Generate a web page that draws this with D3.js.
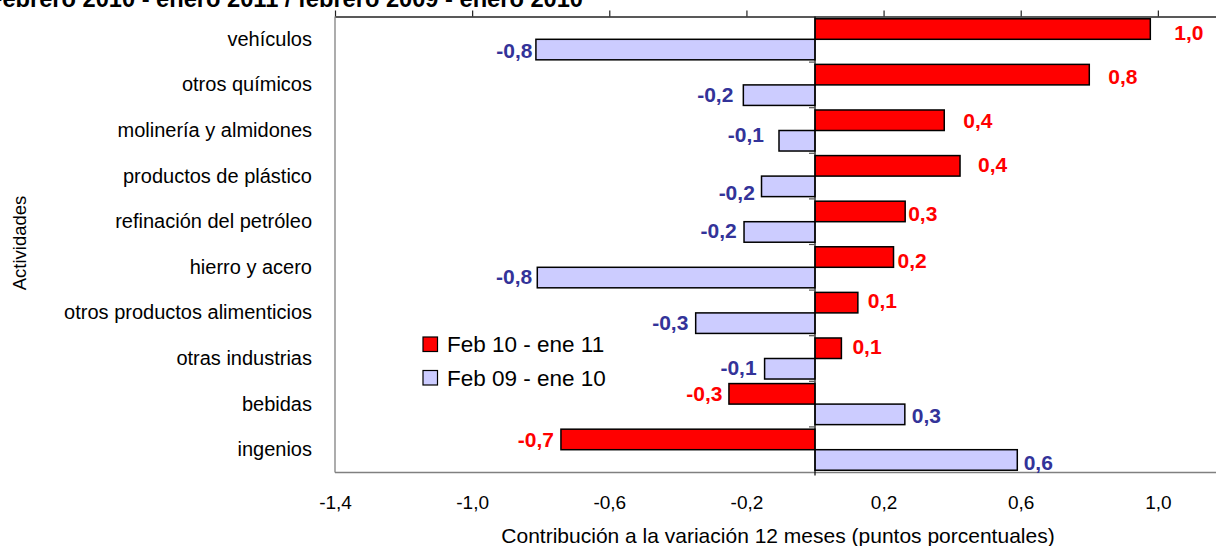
<!DOCTYPE html>
<html>
<head>
<meta charset="utf-8">
<script src="https://cdn.jsdelivr.net/npm/d3@7"></script>
<style>
  html, body { margin: 0; padding: 0; background: #fff; }
  svg { display: block; font-family: "Liberation Sans", Arial, sans-serif; }
  text { white-space: pre; }
</style>
</head>
<body>
<svg id="chart" width="1216" height="546"></svg>
<script>
// ---------- data ----------
const title = "Febrero 2010 - enero 2011 / febrero 2009 - enero 2010";
const categories = ["vehículos", "otros químicos", "molinería y almidones", "productos de plástico",
  "refinación del petróleo", "hierro y acero", "otros productos alimenticios", "otras industrias",
  "bebidas", "ingenios"];
const seriesNames = ["Feb 10 - ene 11", "Feb 09 - ene 10"];
const feb10ene11 = [0.978, 0.80, 0.377, 0.423, 0.263, 0.229, 0.125, 0.077, -0.251, -0.741];
const feb09ene10 = [-0.814, -0.209, -0.105, -0.156, -0.207, -0.81, -0.348, -0.147, 0.262, 0.590];
const tickValues = [-1.4, -1.0, -0.6, -0.2, 0.2, 0.6, 1.0];
const tickLabels = ["-1,4", "-1,0", "-0,6", "-0,2", "0,2", "0,6", "1,0"];
const xTitle = "Contribución a la variación 12 meses (puntos porcentuales)";
const yTitle = "Actividades";

// label placement tweaks (gap from bar end, vertical nudge) — layout only
const redGap = [24, 19, 19, 18, 3, 4, 10, 11, 6.5, 7];
const redDy  = [3.5, 2, 0, -1, 2, 3, -2.5, -2, -0.5, 0];
const blueGap = [3.4, 10, 15, 6.7, 7.3, 5, 7.3, 8, 7, 6.4];
const blueDy  = [0.6, -0.6, -6, 6.5, -1.5, -1, -1, -1, 0.6, 2];

// ---------- layout ----------
const plot = { left: 335, right: 1295, top: 16.5, bottom: 472.5 };
const colors = { red: "#FF0000", blue: "#CCCCFF", redText: "#FF0000", blueText: "#333399" };

const svg = d3.select("#chart");
const x = d3.scaleLinear().domain([-1.4, 1.4]).range([plot.left, plot.right]);
const y = d3.scaleBand().domain(categories).range([plot.top, plot.bottom]);
const bw = y.bandwidth();

const loc = d3.formatLocale({ decimal: ",", thousands: ".", grouping: [3], currency: ["", ""], minus: "-" });
const fmt = loc.format(".1f");

// title (clipped at top)
svg.append("text")
  .attr("x", -12).attr("y", 7)
  .attr("font-size", 23).attr("font-weight", "bold").attr("fill", "#000")
  .attr("textLength", 595).attr("lengthAdjust", "spacingAndGlyphs")
  .text(title);

// plot border (left & bottom, gray)
svg.append("line").attr("x1", plot.left).attr("x2", plot.left)
  .attr("y1", plot.top).attr("y2", plot.bottom).attr("stroke", "#808080").attr("stroke-width", 1.3);
svg.append("line").attr("x1", plot.left).attr("x2", 1216)
  .attr("y1", plot.bottom).attr("y2", plot.bottom).attr("stroke", "#808080").attr("stroke-width", 1.3);

// top value axis line with outward ticks
const topAxis = svg.append("g").attr("transform", `translate(0,${plot.top})`)
  .call(d3.axisTop(x).tickValues(tickValues).tickSize(6).tickSizeOuter(0).tickFormat(""));
topAxis.select(".domain").attr("stroke", "#222").attr("stroke-width", 1.3);
topAxis.selectAll(".tick line").attr("stroke", "#222").attr("stroke-width", 1.2);

// bottom tick labels
const botAxis = svg.append("g").attr("transform", `translate(0,495)`)
  .call(d3.axisBottom(x).tickValues(tickValues).tickSize(0).tickPadding(0)
    .tickFormat((d, i) => tickLabels[i]));
botAxis.select(".domain").remove();
botAxis.selectAll("text").attr("font-size", 19).attr("fill", "#000")
  .attr("font-family", '"Liberation Sans", Arial, sans-serif');

// x axis title
svg.append("text").attr("x", 778).attr("y", 543).attr("text-anchor", "middle")
  .attr("font-size", 21).attr("fill", "#000").text(xTitle);

// y axis title
svg.append("text").attr("transform", "translate(25.5,243) rotate(-90)")
  .attr("text-anchor", "middle").attr("font-size", 18.5).attr("fill", "#000").text(yTitle);

// category labels
const catAxis = svg.append("g").attr("transform", `translate(312,0)`)
  .call(d3.axisLeft(y).tickSize(0).tickPadding(0));
catAxis.select(".domain").remove();
catAxis.selectAll("text").attr("font-size", 20).attr("fill", "#000")
  .attr("font-family", '"Liberation Sans", Arial, sans-serif');

// bars
const rows = categories.map((c, i) => ({ c, i, r: feb10ene11[i], b: feb09ene10[i] }));
const g = svg.append("g");
g.selectAll("rect.red").data(rows).join("rect").attr("class", "red")
  .attr("x", d => x(Math.min(0, d.r))).attr("width", d => Math.abs(x(d.r) - x(0)))
  .attr("y", d => y(d.c) + bw * 0.05).attr("height", bw * 0.45)
  .attr("fill", colors.red).attr("stroke", "#000").attr("stroke-width", 1.5);
g.selectAll("rect.blue").data(rows).join("rect").attr("class", "blue")
  .attr("x", d => x(Math.min(0, d.b))).attr("width", d => Math.abs(x(d.b) - x(0)))
  .attr("y", d => y(d.c) + bw * 0.5).attr("height", bw * 0.45)
  .attr("fill", colors.blue).attr("stroke", "#000").attr("stroke-width", 1.5);

// category axis at zero with boundary ticks
svg.append("line").attr("x1", x(0)).attr("x2", x(0))
  .attr("y1", plot.top).attr("y2", plot.bottom + 3).attr("stroke", "#000").attr("stroke-width", 1.2);
svg.selectAll("line.ctick").data(categories.slice(1)).join("line").attr("class", "ctick")
  .attr("x1", x(0) - 6).attr("x2", x(0)).attr("y1", d => y(d)).attr("y2", d => y(d))
  .attr("stroke", "#555").attr("stroke-width", 1.2);

// data labels
g.selectAll("text.rl").data(rows).join("text").attr("class", "rl")
  .attr("x", d => d.r >= 0 ? x(d.r) + redGap[d.i] : x(d.r) - redGap[d.i])
  .attr("y", d => y(d.c) + bw * 0.275 + redDy[d.i]).attr("dy", "0.36em")
  .attr("text-anchor", d => d.r >= 0 ? "start" : "end")
  .attr("font-size", 21).attr("font-weight", "bold").attr("fill", colors.redText)
  .text(d => fmt(d.r));
g.selectAll("text.bl").data(rows).join("text").attr("class", "bl")
  .attr("x", d => d.b >= 0 ? x(d.b) + blueGap[d.i] : x(d.b) - blueGap[d.i])
  .attr("y", d => y(d.c) + bw * 0.725 + blueDy[d.i]).attr("dy", "0.36em")
  .attr("text-anchor", d => d.b >= 0 ? "start" : "end")
  .attr("font-size", 21).attr("font-weight", "bold").attr("fill", colors.blueText)
  .text(d => fmt(d.b));

// legend
const legend = svg.append("g").attr("transform", "translate(423,337)");
const legendItems = [{ name: seriesNames[0], fill: colors.red }, { name: seriesNames[1], fill: colors.blue }];
legend.selectAll("rect").data(legendItems).join("rect")
  .attr("x", 0).attr("y", (d, i) => i * 33.5).attr("width", 14.5).attr("height", 14.5)
  .attr("fill", d => d.fill).attr("stroke", "#000").attr("stroke-width", 1.2);
legend.selectAll("text").data(legendItems).join("text")
  .attr("x", 24).attr("y", (d, i) => 14.5 + i * 34)
  .attr("font-size", 22.5).attr("fill", "#000").text(d => d.name);
</script>
</body>
</html>
